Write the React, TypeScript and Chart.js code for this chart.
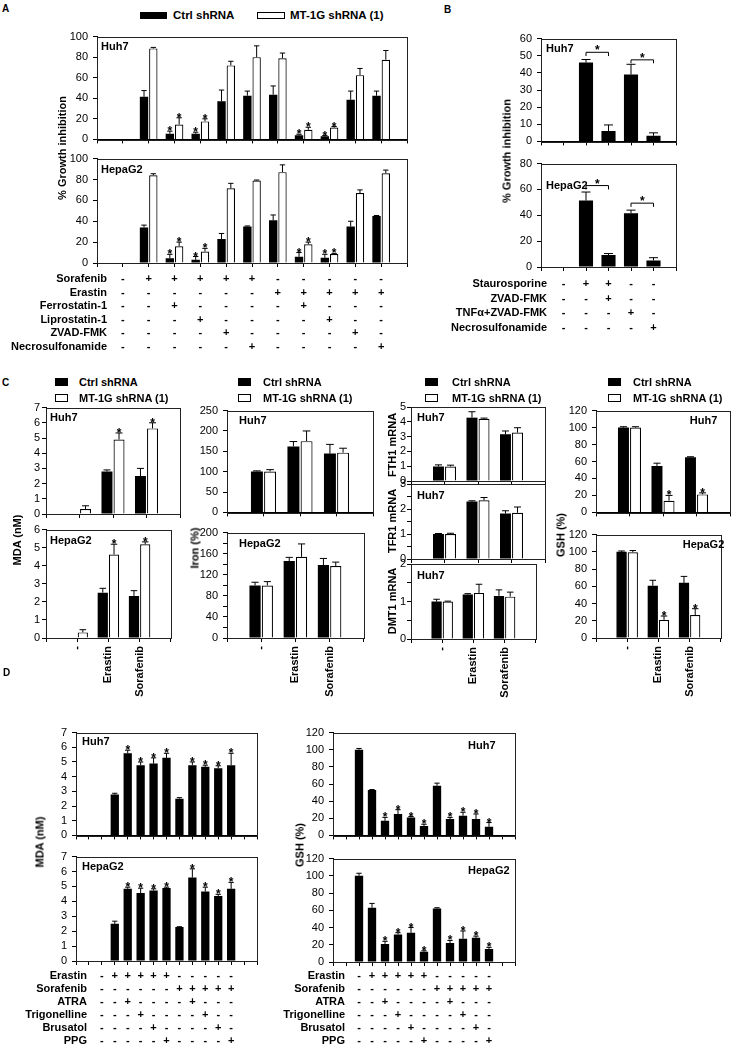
import React, { useEffect, useRef } from 'react';
import { Chart, registerables } from 'chart.js';
Chart.register(...registerables);

const FONT = "'Liberation Sans', Arial, Helvetica, sans-serif";
Chart.defaults.font.family = FONT;

/* ---------------- shared ---------------- */
const SERIES_NAMES = ['Ctrl shRNA', 'MT-1G shRNA (1)'];
const BLACK = '#000';
const WHITE = '#fff';

/* ---------------- Panel A ---------------- */
const A_CATEGORIES = ['Control', 'Sorafenib', 'Sorafenib+Ferrostatin-1', 'Sorafenib+Liprostatin-1', 'Sorafenib+ZVAD-FMK', 'Sorafenib+Necrosulfonamide', 'Erastin', 'Erastin+Ferrostatin-1', 'Erastin+Liprostatin-1', 'Erastin+ZVAD-FMK', 'Erastin+Necrosulfonamide'];
const A_ROWS = ['Sorafenib', 'Erastin', 'Ferrostatin-1', 'Liprostatin-1', 'ZVAD-FMK', 'Necrosulfonamide'];
const A_MARKS = ['-+++++-----', '------+++++', '--+----+---', '---+----+--', '----+----+-', '-----+----+'];
const A_Y_TICKS = [0, 20, 40, 60, 80, 100];
const A_HUH7_CTRL = [null, 41.5, 5.5, 5.5, 37, 42.5, 43.5, 4, 3, 38.5, 42.5];
const A_HUH7_CTRL_ERR = [null, 47.5, 8, 7, 48, 47, 52, 5, 3.7, 47, 47];
const A_HUH7_MT = [null, 88.5, 14.5, 17.5, 72, 80, 79, 9.3, 11.5, 62.5, 77.5];
const A_HUH7_MT_ERR = [null, 89.5, 21, 20, 76, 91, 84, 11.8, 12.5, 69, 86.5];
const A_HEP_CTRL = [null, 34, 4.5, 3, 23, 35, 41, 6, 5, 35, 45];
const A_HEP_CTRL_ERR = [null, 36.3, 8.3, 6.2, 28.3, 35.5, 46, 10, 8.3, 40, 45.5];
const A_HEP_MT = [null, 84, 16, 11, 71.5, 79, 87, 18, 8.6, 67, 86];
const A_HEP_MT_ERR = [null, 85.5, 20, 14, 76.3, 79.5, 94, 20, 9.2, 70, 89];
const A_STARS = [2, 3, 7, 8];

/* ---------------- Panel B ---------------- */
const B_CATEGORIES = ['Control', 'Staurosporine', 'Staurosporine+ZVAD-FMK', 'TNFα+ZVAD-FMK', 'Necrosulfonamide'];
const B_ROWS = ['Staurosporine', 'ZVAD-FMK', 'TNFα+ZVAD-FMK', 'Necrosulfonamide'];
const B_MARKS = ['-++--', '--+--', '---+-', '----+'];
const B_HUH7 = [null, 46, 6, 39, 3.3];
const B_HUH7_ERR = [null, 47.8, 9.6, 45, 5];
const B_HEP = [null, 51.4, 9.2, 41.5, 5];
const B_HEP_ERR = [null, 58, 10.4, 44, 7.2];
// [from, to, bracket level, leg end]
const B_HUH7_BRACKETS = [[1, 2, 52, 49.8], [3, 4, 47.6, 45.6]];
const B_HEP_BRACKETS = [[1, 2, 63, 60], [3, 4, 49.4, 46.5]];
const B_HUH7_Y_TICKS = [0, 10, 20, 30, 40, 50, 60];
const B_HEP_Y_TICKS = [0, 20, 40, 60, 80];

/* ---------------- Panel C ---------------- */
const C_CATEGORIES = ['-', 'Erastin', 'Sorafenib'];
const C_MDA_HUH7_CTRL = [0, 2.8, 2.5];
const C_MDA_HUH7_CTRL_ERR = [null, 2.9, 3.0];
const C_MDA_HUH7_MT = [0.33, 4.9, 5.63];
const C_MDA_HUH7_MT_ERR = [0.54, 5.33, 6.0];
const C_MDA_HEP_CTRL = [0, 2.51, 2.33];
const C_MDA_HEP_CTRL_ERR = [null, 2.75, 2.62];
const C_MDA_HEP_MT = [0.31, 4.62, 5.19];
const C_MDA_HEP_MT_ERR = [0.46, 5.19, 5.32];
const C_IRON_HUH7_CTRL = [100.5, 162, 144.4];
const C_IRON_HUH7_CTRL_ERR = [102, 174, 167];
const C_IRON_HUH7_MT = [100.5, 175, 146.7];
const C_IRON_HUH7_MT_ERR = [105, 200, 157.6];
const C_IRON_HEP_CTRL = [99.7, 146, 138.5];
const C_IRON_HEP_CTRL_ERR = [105.8, 153, 151];
const C_IRON_HEP_MT = [99.7, 154, 136.6];
const C_IRON_HEP_MT_ERR = [107, 178.5, 144];
const C_FTH1_CTRL = [0.98, 4.28, 3.16];
const C_FTH1_CTRL_ERR = [1.09, 4.68, 3.38];
const C_FTH1_MT = [0.98, 4.2, 3.27];
const C_FTH1_MT_ERR = [1.07, 4.25, 3.6];
const C_TFR1_CTRL = [1.0, 2.3, 1.82];
const C_TFR1_CTRL_ERR = [1.02, 2.33, 1.93];
const C_TFR1_MT = [1.0, 2.35, 1.85];
const C_TFR1_MT_ERR = [1.03, 2.46, 2.08];
const C_DMT1_CTRL = [1.0, 1.19, 1.15];
const C_DMT1_CTRL_ERR = [1.06, 1.21, 1.31];
const C_DMT1_MT = [1.0, 1.23, 1.13];
const C_DMT1_MT_ERR = [1.01, 1.46, 1.25];
const C_GSH_HUH7_CTRL = [100, 54.8, 64.9];
const C_GSH_HUH7_CTRL_ERR = [101, 58, 65.6];
const C_GSH_HUH7_MT = [100, 13.8, 21.2];
const C_GSH_HUH7_MT_ERR = [101, 20, 23];
const C_GSH_HEP_CTRL = [100, 60.7, 64];
const C_GSH_HEP_CTRL_ERR = [101, 67, 71.5];
const C_GSH_HEP_MT = [99.6, 21, 26.7];
const C_GSH_HEP_MT_ERR = [101.5, 25.5, 34];
const C_STARS = [1, 2];
const C_MDA_HUH7_Y_TICKS = [0, 1, 2, 3, 4, 5, 6, 7];
const C_MDA_HEP_Y_TICKS = [0, 1, 2, 3, 4, 5, 6];
const C_IRON_HUH7_Y_TICKS = [0, 50, 100, 150, 200, 250];
const C_IRON_HEP_Y_TICKS = [0, 20, 40, 60, 80, 100, 120, 140, 160, 180, 200];
const C_IRON_HEP_Y_LABELS = [0, 40, 80, 120, 160, 200];
const C_FTH1_Y_TICKS = [0, 1, 2, 3, 4, 5];
const C_TFR1_Y_TICKS = [0, 0.5, 1, 1.5, 2, 2.5, 3];
const C_TFR1_Y_LABELS = [0, 1, 2, 3];
const C_DMT1_Y_TICKS = [0, 0.5, 1, 1.5, 2];
const C_DMT1_Y_LABELS = [0, 1, 2];
const C_GSH_Y_TICKS = [0, 20, 40, 60, 80, 100, 120];

/* ---------------- Panel D ---------------- */
const D_CATEGORIES = ['Control', 'Erastin', 'Erastin+ATRA', 'Erastin+Trigonelline', 'Erastin+Brusatol', 'Erastin+PPG', 'Sorafenib', 'Sorafenib+ATRA', 'Sorafenib+Trigonelline', 'Sorafenib+Brusatol', 'Sorafenib+PPG'];
const D_ROWS = ['Erastin', 'Sorafenib', 'ATRA', 'Trigonelline', 'Brusatol', 'PPG'];
const D_MARKS = ['-+++++-----', '------+++++', '--+----+---', '---+----+--', '----+----+-', '-----+----+'];
const D_MDA_HUH7 = [null, 2.78, 5.59, 4.78, 4.89, 5.28, 2.5, 4.78, 4.67, 4.57, 4.78];
const D_MDA_HUH7_ERR = [null, 2.87, 5.8, 5.0, 5.28, 5.59, 2.57, 5.0, 4.78, 4.74, 5.59];
const D_MDA_HEP = [null, 2.49, 4.84, 4.56, 4.73, 4.9, 2.28, 5.6, 4.66, 4.36, 4.84];
const D_MDA_HEP_ERR = [null, 2.67, 4.95, 4.88, 4.84, 4.95, 2.3, 6.18, 4.95, 4.47, 5.27];
const D_GSH_HUH7 = [100, 53, 17, 25, 21, 11, 58, 19, 23, 19, 10];
const D_GSH_HUH7_ERR = [101.5, 53.5, 21, 30, 22, 13, 61, 21, 27, 25, 15];
const D_GSH_HEP = [100, 63, 21, 32, 34, 12, 62, 22, 27, 28, 15];
const D_GSH_HEP_ERR = [103, 68, 24, 34, 40, 13, 63, 25, 36, 30, 17];
const D_STARS = [2, 3, 4, 5, 7, 8, 9, 10];
const D_MDA_Y_TICKS = [0, 1, 2, 3, 4, 5, 6, 7];
const D_GSH_Y_TICKS = [0, 20, 40, 60, 80, 100, 120];

/* ---------------- chart building ---------------- */
type Num = number | null;
type Series = { data: Num[]; err: Num[]; fill: string; stars: number[] };
type Cell = { text: string; align: CanvasTextAlign; dx: number; dy: number };
type Table = { rows: string[]; marks: string[]; dy0: number; dy: number; labelDx: number };
type Spec = {
  id: string; x0: number; x1: number; y0: number; y1: number; lw: number; bh: number;
  categories: string[]; lead: number; trail: number; series: Series[];
  yTicks: number[]; yLabels?: number[]; showX?: boolean; catPct: number; barPct: number;
  tickPad?: number;
  cell?: Cell; table?: Table; brackets?: number[][];
};

const PT = 8;
const PR = 8;

function buildConfig(s: Spec) {
  const labels = [...Array(s.lead).fill(''), ...s.categories, ...Array(s.trail).fill('')];
  const pad = (a: Num[]) => [...Array(s.lead).fill(null), ...a, ...Array(s.trail).fill(null)];
  const ser = s.series.map((se) => ({ data: pad(se.data), err: pad(se.err), fill: se.fill, stars: se.stars.map((i) => i + s.lead) }));
  const yMax = s.yTicks[s.yTicks.length - 1];
  const yLabels = s.yLabels ?? s.yTicks;

  const decor = {
    id: 'decor_' + s.id,
    afterDraw(chart: any) {
      const { ctx, chartArea: ca, scales } = chart;
      const xs = scales.x;
      const ys = scales.y;
      ctx.save();
      // frame
      ctx.strokeStyle = '#222';
      ctx.lineWidth = 1;
      ctx.strokeRect(Math.round(ca.left) + 0.5, Math.round(ca.top) + 0.5, Math.round(ca.right - ca.left), Math.round(ca.bottom - ca.top));
      // error bars and stars
      ser.forEach((se, di) => {
        const meta = chart.getDatasetMeta(di);
        meta.data.forEach((el: any, i: number) => {
          const v = se.data[i];
          if (v == null) return;
          const e = se.err[i];
          const top = ys.getPixelForValue(v);
          let mark = top;
          if (e != null && e > v) {
            const ye = ys.getPixelForValue(e);
            const cw = el.width * 0.32;
            ctx.strokeStyle = '#000';
            ctx.lineWidth = 1;
            ctx.beginPath();
            ctx.moveTo(el.x, top);
            ctx.lineTo(el.x, ye);
            ctx.moveTo(el.x - cw, ye);
            ctx.lineTo(el.x + cw, ye);
            ctx.stroke();
            mark = ye;
          }
          if (se.stars.includes(i)) {
            ctx.fillStyle = '#000';
            ctx.font = `bold 12px ${FONT}`;
            ctx.textAlign = 'center';
            ctx.textBaseline = 'alphabetic';
            ctx.fillText('*', el.x, mark + 4);
          }
        });
      });
      // significance brackets
      (s.brackets || []).forEach((b) => {
        const xa = xs.getPixelForValue(b[0] + s.lead);
        const xb = xs.getPixelForValue(b[1] + s.lead);
        const yb = ys.getPixelForValue(b[2]);
        const yl = ys.getPixelForValue(b[3]);
        ctx.strokeStyle = '#000';
        ctx.lineWidth = 1;
        ctx.beginPath();
        ctx.moveTo(xa, yl);
        ctx.lineTo(xa, yb);
        ctx.lineTo(xb, yb);
        ctx.lineTo(xb, yl);
        ctx.stroke();
        ctx.fillStyle = '#000';
        ctx.font = `bold 12px ${FONT}`;
        ctx.textAlign = 'center';
        ctx.textBaseline = 'alphabetic';
        ctx.fillText('*', (xa + xb) / 2, yb + 2);
      });
      // cell label
      if (s.cell) {
        ctx.fillStyle = '#000';
        ctx.font = `bold 11px ${FONT}`;
        ctx.textAlign = s.cell.align;
        ctx.textBaseline = 'middle';
        ctx.fillText(s.cell.text, ca.left + s.cell.dx, ca.top + s.cell.dy);
      }
      // treatment table
      if (s.table) {
        const t = s.table;
        ctx.fillStyle = '#000';
        ctx.font = `bold 11px ${FONT}`;
        ctx.textBaseline = 'middle';
        t.rows.forEach((row, r) => {
          const y = ca.bottom + t.dy0 + r * t.dy;
          ctx.textAlign = 'right';
          ctx.fillText(row, ca.left + t.labelDx, y);
          ctx.textAlign = 'center';
          t.marks[r].split('').forEach((m, c) => {
            ctx.fillText(m, xs.getPixelForValue(c + s.lead), y);
          });
        });
      }
      ctx.restore();
    },
  };

  return {
    type: 'bar',
    data: {
      labels,
      datasets: ser.map((se) => ({
        data: se.data,
        backgroundColor: se.fill,
        borderColor: '#000',
        borderWidth: se.fill === BLACK ? 0 : 1.2,
        borderSkipped: 'start',
        categoryPercentage: s.catPct,
        barPercentage: s.barPct,
      })),
    },
    options: {
      responsive: false,
      animation: false,
      events: [],
      layout: { padding: { top: PT, right: PR, left: 0, bottom: 0 } },
      plugins: { legend: { display: false }, tooltip: { enabled: false }, title: { display: false } },
      scales: {
        x: {
          type: 'category',
          offset: false,
          grid: { offset: false, drawOnChartArea: false, drawTicks: true, tickLength: 4, color: '#000' },
          border: { display: true, color: '#000' },
          ticks: { display: !!s.showX, autoSkip: false, minRotation: 90, maxRotation: 90, padding: 4, color: '#000', font: { size: 11, weight: 'bold', family: FONT } },
          afterFit: (sc: any) => { sc.height = s.bh; },
        },
        y: {
          type: 'linear',
          min: 0,
          max: yMax,
          afterBuildTicks: (sc: any) => { sc.ticks = s.yTicks.map((v) => ({ value: v })); },
          ticks: {
            autoSkip: false,
            callback: (v: number) => (yLabels.some((l) => Math.abs(l - v) < 1e-9) ? String(v) : ''),
            padding: s.tickPad ?? 5,
            color: '#000',
            font: { size: 11, family: FONT },
          },
          grid: { drawOnChartArea: false, drawTicks: true, tickLength: 4, color: '#000' },
          border: { display: true, color: '#000' },
          afterFit: (sc: any) => { sc.width = s.lw; },
        },
      },
    },
    plugins: [decor],
  };
}

function BarPanel({ spec }: { spec: Spec }) {
  const ref = useRef<HTMLCanvasElement | null>(null);
  const w = spec.x1 - spec.x0 + spec.lw + PR;
  const h = spec.y1 - spec.y0 + PT + spec.bh;
  useEffect(() => {
    if (!ref.current) return;
    const chart = new Chart(ref.current, buildConfig(spec) as any);
    return () => chart.destroy();
  }, [spec]);
  return (
    <canvas
      ref={ref}
      width={w}
      height={h}
      style={{ position: 'absolute', left: spec.x0 - spec.lw, top: spec.y0 - PT, width: w, height: h }}
    />
  );
}

const two = (c: Num[], ce: Num[], m: Num[], me: Num[], cs: number[], ms: number[]): Series[] => [
  { data: c, err: ce, fill: BLACK, stars: cs },
  { data: m, err: me, fill: WHITE, stars: ms },
];
const one = (d: Num[], e: Num[], st: number[]): Series[] => [{ data: d, err: e, fill: BLACK, stars: st }];

const A_BASE = { x0: 97, x1: 407, lead: 1, trail: 1, categories: A_CATEGORIES, yTicks: A_Y_TICKS, catPct: 0.72, barPct: 0.9 };
const B_BASE = { x0: 541, x1: 676, lead: 1, trail: 1, categories: B_CATEGORIES, catPct: 0.66, barPct: 0.95 };
const C_BASE = { lead: 1, trail: 1, categories: C_CATEGORIES, catPct: 0.72, barPct: 0.91 };
const D_BASE = { lead: 2, trail: 2, categories: D_CATEGORIES, catPct: 0.66, barPct: 0.97 };

const PANELS: Spec[] = [
  { ...A_BASE, id: 'A1', y0: 33, y1: 141, lw: 92, bh: 10, series: two(A_HUH7_CTRL, A_HUH7_CTRL_ERR, A_HUH7_MT, A_HUH7_MT_ERR, A_STARS, A_STARS), cell: { text: 'Huh7', align: 'left', dx: 4, dy: 10 } },
  { ...A_BASE, id: 'A2', y0: 155, y1: 263, lw: 92, bh: 92, series: two(A_HEP_CTRL, A_HEP_CTRL_ERR, A_HEP_MT, A_HEP_MT_ERR, A_STARS, A_STARS), cell: { text: 'HepaG2', align: 'left', dx: 4, dy: 11 }, table: { rows: A_ROWS, marks: A_MARKS, dy0: 16, dy: 13.6, labelDx: 10 } },
  { ...B_BASE, id: 'B1', y0: 35, y1: 143, lw: 30, bh: 10, series: one(B_HUH7, B_HUH7_ERR, []), yTicks: B_HUH7_Y_TICKS, brackets: B_HUH7_BRACKETS, cell: { text: 'Huh7', align: 'left', dx: 5, dy: 10 } },
  { ...B_BASE, id: 'B2', y0: 160, y1: 267, lw: 96, bh: 70, series: one(B_HEP, B_HEP_ERR, []), yTicks: B_HEP_Y_TICKS, brackets: B_HEP_BRACKETS, cell: { text: 'HepaG2', align: 'left', dx: 5, dy: 22.5 }, table: { rows: B_ROWS, marks: B_MARKS, dy0: 17, dy: 14.7, labelDx: 6 } },
  { ...C_BASE, id: 'CM1', x0: 46, x1: 180, y0: 407, y1: 514, lw: 40, bh: 10, tickPad: 2, series: two(C_MDA_HUH7_CTRL, C_MDA_HUH7_CTRL_ERR, C_MDA_HUH7_MT, C_MDA_HUH7_MT_ERR, [], C_STARS), yTicks: C_MDA_HUH7_Y_TICKS, cell: { text: 'Huh7', align: 'left', dx: 4, dy: 10.5 } },
  { ...C_BASE, id: 'CM2', x0: 46, x1: 180, y0: 529, y1: 638, lw: 40, bh: 70, tickPad: 2, showX: true, series: two(C_MDA_HEP_CTRL, C_MDA_HEP_CTRL_ERR, C_MDA_HEP_MT, C_MDA_HEP_MT_ERR, [], C_STARS), yTicks: C_MDA_HEP_Y_TICKS, cell: { text: 'HepaG2', align: 'left', dx: 4, dy: 11 } },
  { ...C_BASE, id: 'CI1', x0: 227, x1: 373, y0: 407, y1: 514, lw: 35, bh: 10, series: two(C_IRON_HUH7_CTRL, C_IRON_HUH7_CTRL_ERR, C_IRON_HUH7_MT, C_IRON_HUH7_MT_ERR, [], []), yTicks: C_IRON_HUH7_Y_TICKS, cell: { text: 'Huh7', align: 'left', dx: 12, dy: 10.5 } },
  { ...C_BASE, id: 'CI2', x0: 227, x1: 373, y0: 529, y1: 638, lw: 35, bh: 70, showX: true, series: two(C_IRON_HEP_CTRL, C_IRON_HEP_CTRL_ERR, C_IRON_HEP_MT, C_IRON_HEP_MT_ERR, [], []), yTicks: C_IRON_HEP_Y_TICKS, yLabels: C_IRON_HEP_Y_LABELS, cell: { text: 'HepaG2', align: 'left', dx: 12, dy: 11 } },
  { ...C_BASE, id: 'CF', x0: 411, x1: 545, y0: 407, y1: 481, lw: 16, bh: 10, tickPad: 1, series: two(C_FTH1_CTRL, C_FTH1_CTRL_ERR, C_FTH1_MT, C_FTH1_MT_ERR, [], []), yTicks: C_FTH1_Y_TICKS, cell: { text: 'Huh7', align: 'left', dx: 6, dy: 10.5 } },
  { ...C_BASE, id: 'CT', x0: 411, x1: 545, y0: 484, y1: 559, lw: 16, bh: 10, tickPad: 1, series: two(C_TFR1_CTRL, C_TFR1_CTRL_ERR, C_TFR1_MT, C_TFR1_MT_ERR, [], []), yTicks: C_TFR1_Y_TICKS, yLabels: C_TFR1_Y_LABELS, cell: { text: 'Huh7', align: 'left', dx: 6, dy: 12 } },
  { ...C_BASE, id: 'CD', x0: 411, x1: 545, y0: 564, y1: 639, lw: 16, bh: 70, tickPad: 1, showX: true, series: two(C_DMT1_CTRL, C_DMT1_CTRL_ERR, C_DMT1_MT, C_DMT1_MT_ERR, [], []), yTicks: C_DMT1_Y_TICKS, yLabels: C_DMT1_Y_LABELS, cell: { text: 'Huh7', align: 'left', dx: 6, dy: 11.5 } },
  { ...C_BASE, id: 'CG1', x0: 596, x1: 730, y0: 407, y1: 514, lw: 30, bh: 10, series: two(C_GSH_HUH7_CTRL, C_GSH_HUH7_CTRL_ERR, C_GSH_HUH7_MT, C_GSH_HUH7_MT_ERR, [], C_STARS), yTicks: C_GSH_Y_TICKS, cell: { text: 'Huh7', align: 'center', dx: 107.5, dy: 10 } },
  { ...C_BASE, id: 'CG2', x0: 596, x1: 730, y0: 531, y1: 638, lw: 30, bh: 70, showX: true, series: two(C_GSH_HEP_CTRL, C_GSH_HEP_CTRL_ERR, C_GSH_HEP_MT, C_GSH_HEP_MT_ERR, [], C_STARS), yTicks: C_GSH_Y_TICKS, cell: { text: 'HepaG2', align: 'center', dx: 107.5, dy: 10.5 } },
  { ...D_BASE, id: 'DM1', x0: 76, x1: 257, y0: 729, y1: 837, lw: 40, bh: 10, series: one(D_MDA_HUH7, D_MDA_HUH7_ERR, D_STARS), yTicks: D_MDA_Y_TICKS, cell: { text: 'Huh7', align: 'left', dx: 6, dy: 9.5 } },
  { ...D_BASE, id: 'DM2', x0: 76, x1: 257, y0: 853, y1: 961, lw: 72, bh: 87, series: one(D_MDA_HEP, D_MDA_HEP_ERR, D_STARS), yTicks: D_MDA_Y_TICKS, cell: { text: 'HepaG2', align: 'left', dx: 6, dy: 10 }, table: { rows: D_ROWS, marks: D_MARKS, dy0: 15, dy: 13, labelDx: 11 } },
  { ...D_BASE, id: 'DG1', x0: 333, x1: 515, y0: 729, y1: 837, lw: 30, bh: 10, series: one(D_GSH_HUH7, D_GSH_HUH7_ERR, D_STARS), yTicks: D_GSH_Y_TICKS, cell: { text: 'Huh7', align: 'left', dx: 135, dy: 13 } },
  { ...D_BASE, id: 'DG2', x0: 333, x1: 515, y0: 855, y1: 962, lw: 62, bh: 86, series: one(D_GSH_HEP, D_GSH_HEP_ERR, D_STARS), yTicks: D_GSH_Y_TICKS, cell: { text: 'HepaG2', align: 'left', dx: 135, dy: 12 }, table: { rows: D_ROWS, marks: D_MARKS, dy0: 14, dy: 13, labelDx: 12 } },
];

/* ---------------- HTML text ---------------- */
const PANEL_LETTERS = [
  { t: 'A', x: 2, y: 9 },
  { t: 'B', x: 444, y: 10 },
  { t: 'C', x: 2, y: 383 },
  { t: 'D', x: 3, y: 673 },
];
const Y_TITLES = [
  { t: '% Growth inhibition', x: 62, y: 148 },
  { t: '% Growth inhibition', x: 507, y: 151 },
  { t: 'MDA (nM)', x: 17, y: 540 },
  { t: 'Iron (%)', x: 195, y: 548 },
  { t: 'FTH1 mRNA', x: 392, y: 445 },
  { t: 'TFR1 mRNA', x: 392, y: 521 },
  { t: 'DMT1 mRNA', x: 392, y: 601 },
  { t: 'GSH (%)', x: 561, y: 535 },
  { t: 'MDA (nM)', x: 40, y: 842 },
  { t: 'GSH (%)', x: 300, y: 845 },
];
const C_LEGEND_X = [[55, 79], [238, 263], [425, 452], [608, 633]];

const Txt = ({ x, y, size, children }: { x: number; y: number; size: number; children: React.ReactNode }) => (
  <div style={{ position: 'absolute', left: x, top: y, transform: 'translateY(-50%)', fontSize: size, fontWeight: 'bold', lineHeight: 1, whiteSpace: 'nowrap' }}>{children}</div>
);
const VTxt = ({ x, y, children }: { x: number; y: number; children: React.ReactNode }) => (
  <div style={{ position: 'absolute', left: x, top: y, transform: 'translate(-50%, -50%) rotate(-90deg)', fontSize: 11, fontWeight: 'bold', lineHeight: 1, whiteSpace: 'nowrap' }}>{children}</div>
);
const Box = ({ x, y, w, h, fill }: { x: number; y: number; w: number; h: number; fill: string }) => (
  <div style={{ position: 'absolute', left: x, top: y, width: w, height: h, boxSizing: 'border-box', background: fill, border: '1.2px solid #000' }} />
);

export default function App() {
  return (
    <div style={{ position: 'absolute', left: 0, top: 0, width: 732, height: 1050, background: '#fff', overflow: 'hidden', fontFamily: FONT, color: '#000' }}>
      {PANELS.map((p) => <BarPanel key={p.id} spec={p} />)}
      {PANEL_LETTERS.map((l) => <Txt key={l.t} x={l.x} y={l.y} size={10}>{l.t}</Txt>)}
      {Y_TITLES.map((t, i) => <VTxt key={i} x={t.x} y={t.y}>{t.t}</VTxt>)}
      <Box x={140} y={12} w={27} h={7} fill={BLACK} />
      <Txt x={173} y={15.5} size={11.5}>{SERIES_NAMES[0]}</Txt>
      <Box x={257} y={12} w={28} h={7} fill={WHITE} />
      <Txt x={290} y={15.5} size={11.5}>{SERIES_NAMES[1]}</Txt>
      {C_LEGEND_X.map(([bx, tx], i) => (
        <React.Fragment key={i}>
          <Box x={bx} y={378} w={13} h={8} fill={BLACK} />
          <Txt x={tx} y={382} size={11}>{SERIES_NAMES[0]}</Txt>
          <Box x={bx} y={394} w={13} h={8} fill={WHITE} />
          <Txt x={tx} y={398} size={11}>{SERIES_NAMES[1]}</Txt>
        </React.Fragment>
      ))}
    </div>
  );
}
